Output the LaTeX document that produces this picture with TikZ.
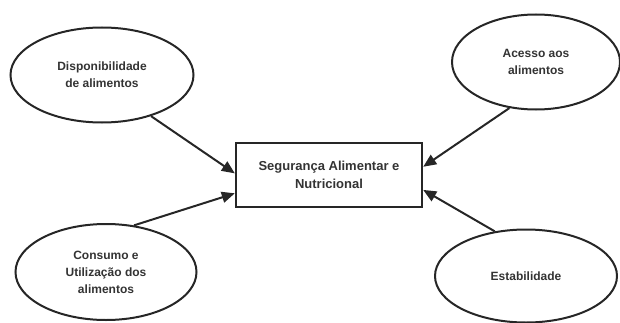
\documentclass[tikz,border=0pt]{standalone}
\usepackage{fontspec}
\setmainfont{Liberation Sans}
\usetikzlibrary{arrows.meta,positioning,shapes.geometric}

\begin{document}
\begin{tikzpicture}[
    x=1pt, y=1pt,
    font=\bfseries\fontsize{12}{17}\selectfont,
    pillar/.style={draw=black!85, ellipse, line width=2pt, inner sep=0pt,
                   align=center, text=black!80},
    core/.style={draw=black!85, line width=2.4pt, minimum width=186pt,
                 minimum height=64pt, align=center, text=black!80,
                 font=\bfseries\fontsize{13}{18}\selectfont},
    arrow/.style={-{Triangle[length=13pt,width=11pt]}, line width=2pt, black!85}
]
\useasboundingbox (0,0) rectangle (620,322);
\node[core] (san) at (329,147) {Segurança Alimentar e\\Nutricional};
\node[pillar, minimum width=183pt, minimum height=95pt] (disp) at (102,247)
    {Disponibilidade\\de alimentos};
\node[pillar, minimum width=168pt, minimum height=95pt] (acesso) at (536,260)
    {Acesso aos\\alimentos};
\node[pillar, minimum width=181pt, minimum height=96pt] (consumo) at (106,50)
    {Consumo e\\Utilização dos\\alimentos};
\node[pillar, minimum width=182pt, minimum height=93pt] (estab) at (526,46)
    {Estabilidade};
\draw[arrow] (disp.-40) -- (san.179);
\draw[arrow] (consumo.59) -- (san.191);
\draw[arrow] (acesso.240) -- (san.5);
\draw[arrow] (estab.125) -- (san.-9);
\end{tikzpicture}
\end{document}
